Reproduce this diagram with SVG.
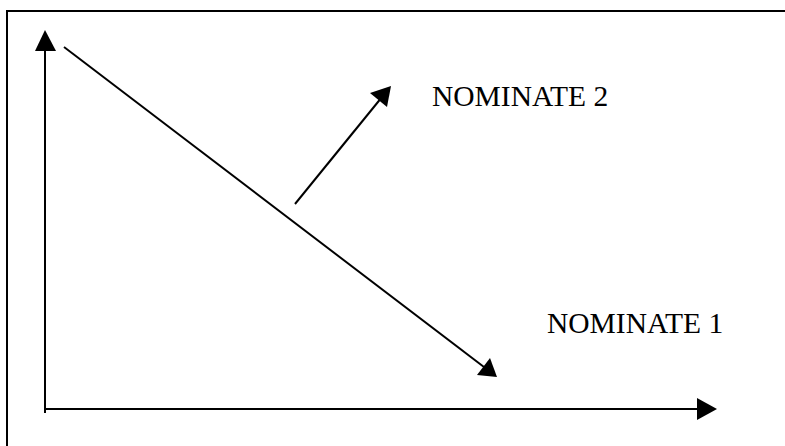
<svg xmlns="http://www.w3.org/2000/svg" width="785" height="446" viewBox="0 0 785 446">
<style>
.ln{stroke:#000;stroke-width:2;fill:none}
.ah{fill:#000}
.lbl{font-family:"Liberation Serif","Times New Roman",serif;font-size:29.5px;fill:#000}
</style>
<rect width="785" height="446" fill="#fff"/>
<g id="frame"><path class="ln" d="M7,446 V11 H786"/></g>
<g id="connectors">
<path class="ln" d="M45,413 V46"/>
<polygon class="ah" points="45,30 35,51 56,51"/>
<path class="ln" d="M45,409 H700"/>
<polygon class="ah" points="717,409 697,398 697,420"/>
<path class="ln" d="M64,47 L484,367"/>
<polygon class="ah" points="497,377 477,375 490,358"/>
<path class="ln" d="M295,204 L382,97"/>
<polygon class="ah" points="391,86 387,107 370,93"/>
</g>
<g id="nominate2"><text class="lbl" x="432" y="106">NOMINATE 2</text></g>
<g id="nominate1"><text class="lbl" x="547" y="333">NOMINATE 1</text></g>
</svg>
